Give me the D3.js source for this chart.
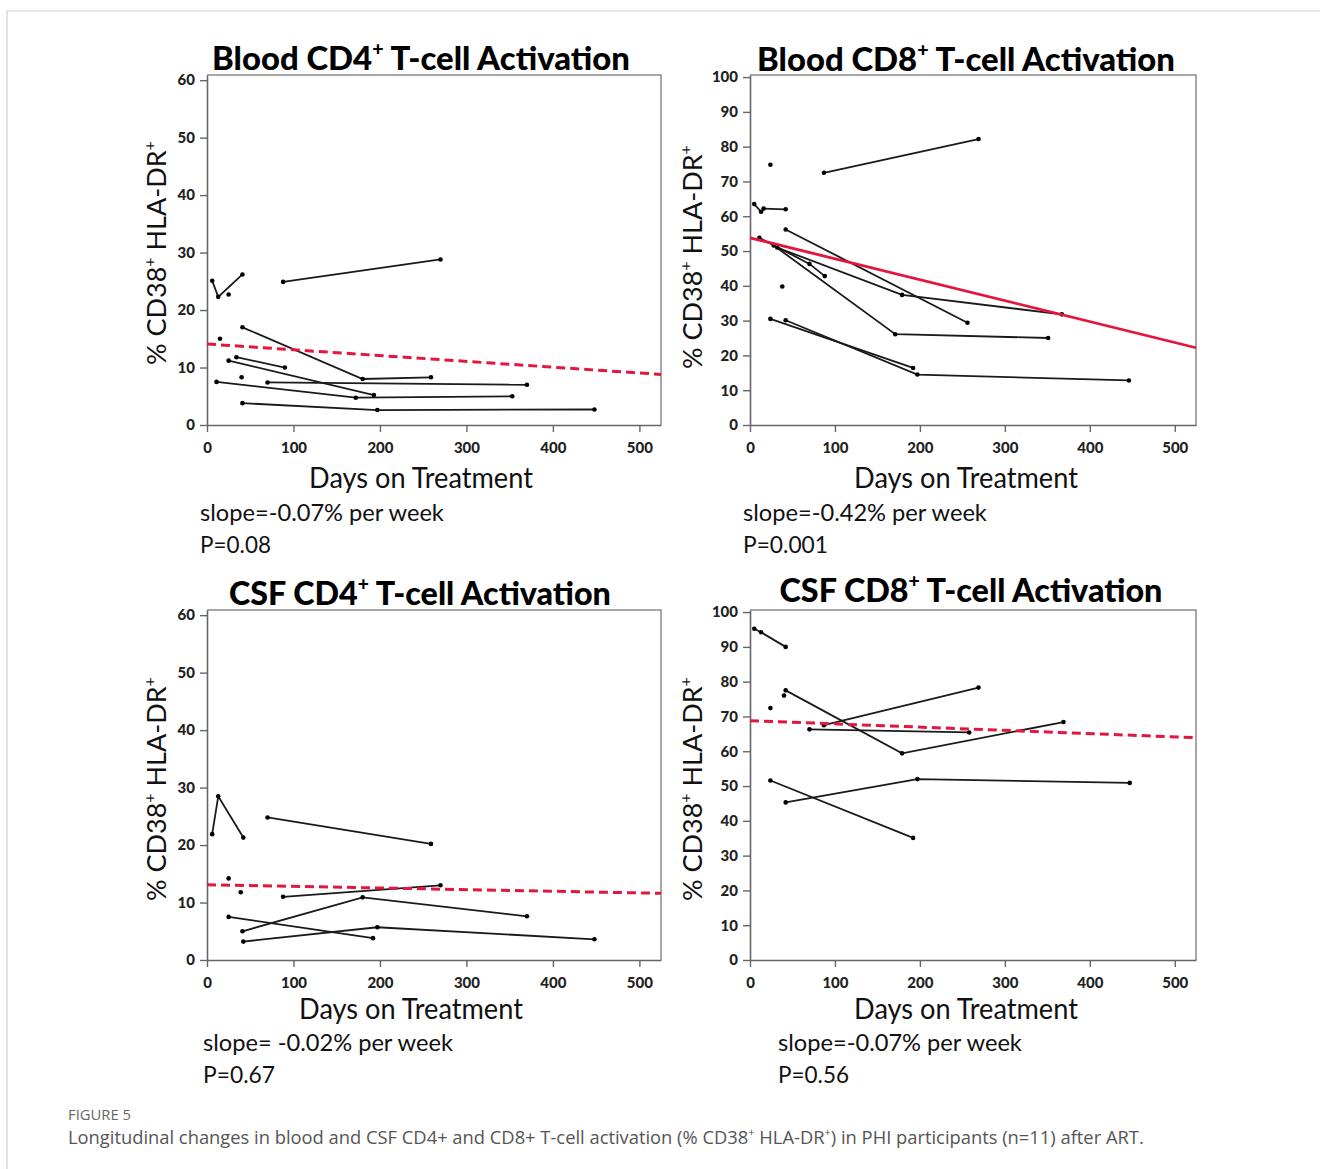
<!DOCTYPE html>
<html><head><meta charset="utf-8">
<script src="https://cdn.jsdelivr.net/npm/d3@7"></script>
<style>html,body{margin:0;padding:0;background:#fff;}</style>
</head><body>
<svg id="chart" width="1320" height="1169"></svg>
<script>
// ---------- DATA ----------
const xTicks = [0, 100, 200, 300, 400, 500];
const cd4YTicks = [0, 10, 20, 30, 40, 50, 60];
const cd8YTicks = [0, 10, 20, 30, 40, 50, 60, 70, 80, 90, 100];

// each subject: list of [day, % CD38+ HLA-DR+]
const bloodCD4Subjects = [
  [[6, 25.1], [13, 22.3], [41, 26.2]],
  [[25, 22.7]],
  [[88, 24.9], [270, 28.8]],
  [[15, 15.0]],
  [[41, 17.0], [180, 8.0], [259, 8.3]],
  [[34, 11.8], [90, 10.0]],
  [[25, 11.2], [193, 5.2]],
  [[11, 7.5], [172, 4.75], [353, 5.0]],
  [[40, 8.3]],
  [[70, 7.4], [370, 7.0]],
  [[41, 3.8], [197, 2.6], [448, 2.7]]
];
const bloodCD8Subjects = [
  [[24, 74.8]],
  [[87, 72.5], [269, 82.2]],
  [[5, 63.5], [13, 61.3]],
  [[16, 62.2], [42, 62.0]],
  [[11, 53.8], [70, 46.3], [88, 42.8]],
  [[32, 51.0], [179, 37.4], [367, 31.8]],
  [[28, 51.6], [171, 26.1], [351, 25.0]],
  [[42, 56.2], [256, 29.4]],
  [[38, 39.8]],
  [[24, 30.5], [192, 16.4]],
  [[42, 30.1], [197, 14.5], [446, 12.8]]
];
const csfCD4Subjects = [
  [[6, 21.9], [13, 28.5], [42, 21.3]],
  [[25, 14.2]],
  [[39, 11.8]],
  [[70, 24.8], [259, 20.2]],
  [[88, 11.0], [270, 13.0]],
  [[25, 7.5], [192, 3.8]],
  [[41, 5.0], [180, 10.9], [370, 7.6]],
  [[42, 3.2], [197, 5.7], [448, 3.6]]
];
const csfCD8Subjects = [
  [[5, 95.2], [13, 94.2], [42, 90.0]],
  [[24, 72.4]],
  [[40, 76.0]],
  [[42, 77.5], [179, 59.4], [369, 68.4]],
  [[87, 67.5], [269, 78.3]],
  [[70, 66.3], [258, 65.4]],
  [[24, 51.6], [192, 35.1]],
  [[42, 45.3], [197, 52.0], [447, 50.9]]
];

// regression lines: [value at day 0, value at day 525]
const bloodCD4Fit = [14.1, 8.8];
const bloodCD8Fit = [53.8, 22.2];
const csfCD4Fit = [13.1, 11.6];
const csfCD8Fit = [68.8, 63.9];
const fitDays = [0, 525];

const titles = [
  ["Blood CD4", "+", " T-cell Activation"],
  ["Blood CD8", "+", " T-cell Activation"],
  ["CSF CD4", "+", " T-cell Activation"],
  ["CSF CD8", "+", " T-cell Activation"]
];
const slopeTexts = ["slope=-0.07% per week", "slope=-0.42% per week", "slope= -0.02% per week", "slope=-0.07% per week"];
const pTexts = ["P=0.08", "P=0.001", "P=0.67", "P=0.56"];
const xLabel = "Days on Treatment";
const captionHead = "FIGURE 5";

// ---------- LAYOUT ----------
const svg = d3.select("#chart");
const RED = "#e2163f";
const FONT = "Lato, 'Open Sans', sans-serif";

// outer frame
svg.append("path").attr("d", "M7,1169 V11 H1320").attr("fill", "none").attr("stroke", "#cfcfcf").attr("stroke-width", 1.2);

function fitText(parent, parts, o) {
  const t = parent.append("text")
    .attr("font-family", o.family || FONT)
    .attr("font-size", o.size)
    .attr("font-weight", o.weight || 400)
    .attr("text-anchor", o.anchor || "start")
    .attr("fill", o.fill || "#111");
  const supShift = o.size * 0.42;
  let prevSup = false;
  parts.forEach((p, i) => {
    const isSup = (p === "+" && i > 0);
    const ts = t.append("tspan").text(p);
    if (isSup) { ts.attr("dy", -supShift).attr("font-size", o.size * 0.6); prevSup = true; }
    else if (prevSup) { ts.attr("dy", supShift); prevSup = false; }
  });
  const w = t.node().getComputedTextLength();
  const sx = o.width ? o.width / w : 1;
  t.attr("transform", `translate(${o.x},${o.y}) rotate(${o.rotate || 0}) scale(${sx},1)`);
  return t;
}

const panels = [
  { subjects: bloodCD4Subjects, fit: bloodCD4Fit, dashed: true, yTicks: cd4YTicks, yMax: 60.9,
    x0: 207, x1: 661, y0: 425, y1: 75,
    title: { x: 421, y: 70, w: 418 }, ylab: { x: 166, y: 253 }, xlab: { x: 421, y: 488 },
    stats: { x: 200, y: 521, w1: 244, w2: 71 } },
  { subjects: bloodCD8Subjects, fit: bloodCD8Fit, dashed: false, yTicks: cd8YTicks, yMax: 100.6,
    x0: 750, x1: 1196, y0: 425, y1: 75,
    title: { x: 966, y: 71, w: 418 }, ylab: { x: 702, y: 257 }, xlab: { x: 966, y: 488 },
    stats: { x: 743, y: 521, w1: 244, w2: 85 } },
  { subjects: csfCD4Subjects, fit: csfCD4Fit, dashed: true, yTicks: cd4YTicks, yMax: 60.9,
    x0: 207, x1: 661, y0: 960, y1: 610,
    title: { x: 420, y: 605, w: 382 }, ylab: { x: 166, y: 789 }, xlab: { x: 411, y: 1019 },
    stats: { x: 203, y: 1051, w1: 250, w2: 72 } },
  { subjects: csfCD8Subjects, fit: csfCD8Fit, dashed: true, yTicks: cd8YTicks, yMax: 100.6,
    x0: 750, x1: 1196, y0: 960, y1: 610,
    title: { x: 971, y: 602, w: 383 }, ylab: { x: 702, y: 789 }, xlab: { x: 966, y: 1019 },
    stats: { x: 778, y: 1051, w1: 244, w2: 71 } }
];

panels.forEach((p, i) => {
  const g = svg.append("g");
  const x = d3.scaleLinear().domain([0, 525]).range([p.x0, p.x1]);
  const y = d3.scaleLinear().domain([0, p.yMax]).range([p.y0, p.y1]);

  // frame top/right
  g.append("path").attr("d", `M${p.x0},${p.y1} H${p.x1} V${p.y0}`)
    .attr("fill", "none").attr("stroke", "#8a8a8a").attr("stroke-width", 1.5);

  // axes
  const ax = g.append("g").attr("transform", `translate(0,${p.y0})`)
    .call(d3.axisBottom(x).tickValues(xTicks).tickSize(7).tickSizeOuter(0).tickPadding(10));
  const ay = g.append("g").attr("transform", `translate(${p.x0},0)`)
    .call(d3.axisLeft(y).tickValues(p.yTicks).tickSize(7).tickSizeOuter(0).tickPadding(5));
  [ax, ay].forEach(a => {
    a.select(".domain").attr("stroke", "#666").attr("stroke-width", 1.6);
    a.selectAll(".tick line").attr("stroke", "#666").attr("stroke-width", 1.4);
    a.selectAll(".tick text").attr("font-family", FONT).attr("font-weight", 900)
      .attr("font-size", 15).attr("fill", "#222");
  });

  // subject lines
  const line = d3.line().x(d => x(d[0])).y(d => y(d[1]));
  g.selectAll(".subj").data(p.subjects.filter(s => s.length > 1)).enter().append("path")
    .attr("d", line).attr("fill", "none").attr("stroke", "#1a1a1a").attr("stroke-width", 1.8);
  g.selectAll(".pt").data(p.subjects.flat()).enter().append("circle")
    .attr("cx", d => x(d[0])).attr("cy", d => y(d[1])).attr("r", 2.3).attr("fill", "#000");

  // regression line
  g.append("path").attr("d", line(fitDays.map((d, k) => [d, p.fit[k]])))
    .attr("fill", "none").attr("stroke", RED).attr("stroke-width", p.dashed ? 3 : 2.8)
    .attr("stroke-dasharray", p.dashed ? "9,5" : null);

  // texts
  fitText(g, titles[i], { x: p.title.x, y: p.title.y, size: 33, weight: 900, anchor: "middle", width: p.title.w, fill: "#000" });
  fitText(g, ["% CD38", "+", " HLA-DR", "+"], { x: p.ylab.x, y: p.ylab.y, size: 26, anchor: "middle", rotate: -90, width: 224, fill: "#111" });
  fitText(g, [xLabel], { x: p.xlab.x, y: p.xlab.y, size: 28, anchor: "middle", width: 224, fill: "#111" });
  fitText(g, [slopeTexts[i]], { x: p.stats.x, y: p.stats.y, size: 23, width: p.stats.w1, fill: "#111" });
  fitText(g, [pTexts[i]], { x: p.stats.x, y: p.stats.y + 32, size: 23, width: p.stats.w2, fill: "#111" });
});

// caption
fitText(svg, [captionHead], { x: 68, y: 1120, size: 14, family: "'Open Sans', sans-serif", width: 63, fill: "#666" });
fitText(svg, ["Longitudinal changes in blood and CSF CD4+ and CD8+ T-cell activation (% CD38", "+", " HLA-DR", "+", ") in PHI participants (n=11) after ART."],
  { x: 68, y: 1144, size: 18, family: "'Open Sans', sans-serif", width: 1077, fill: "#555" });
</script>
</body></html>
